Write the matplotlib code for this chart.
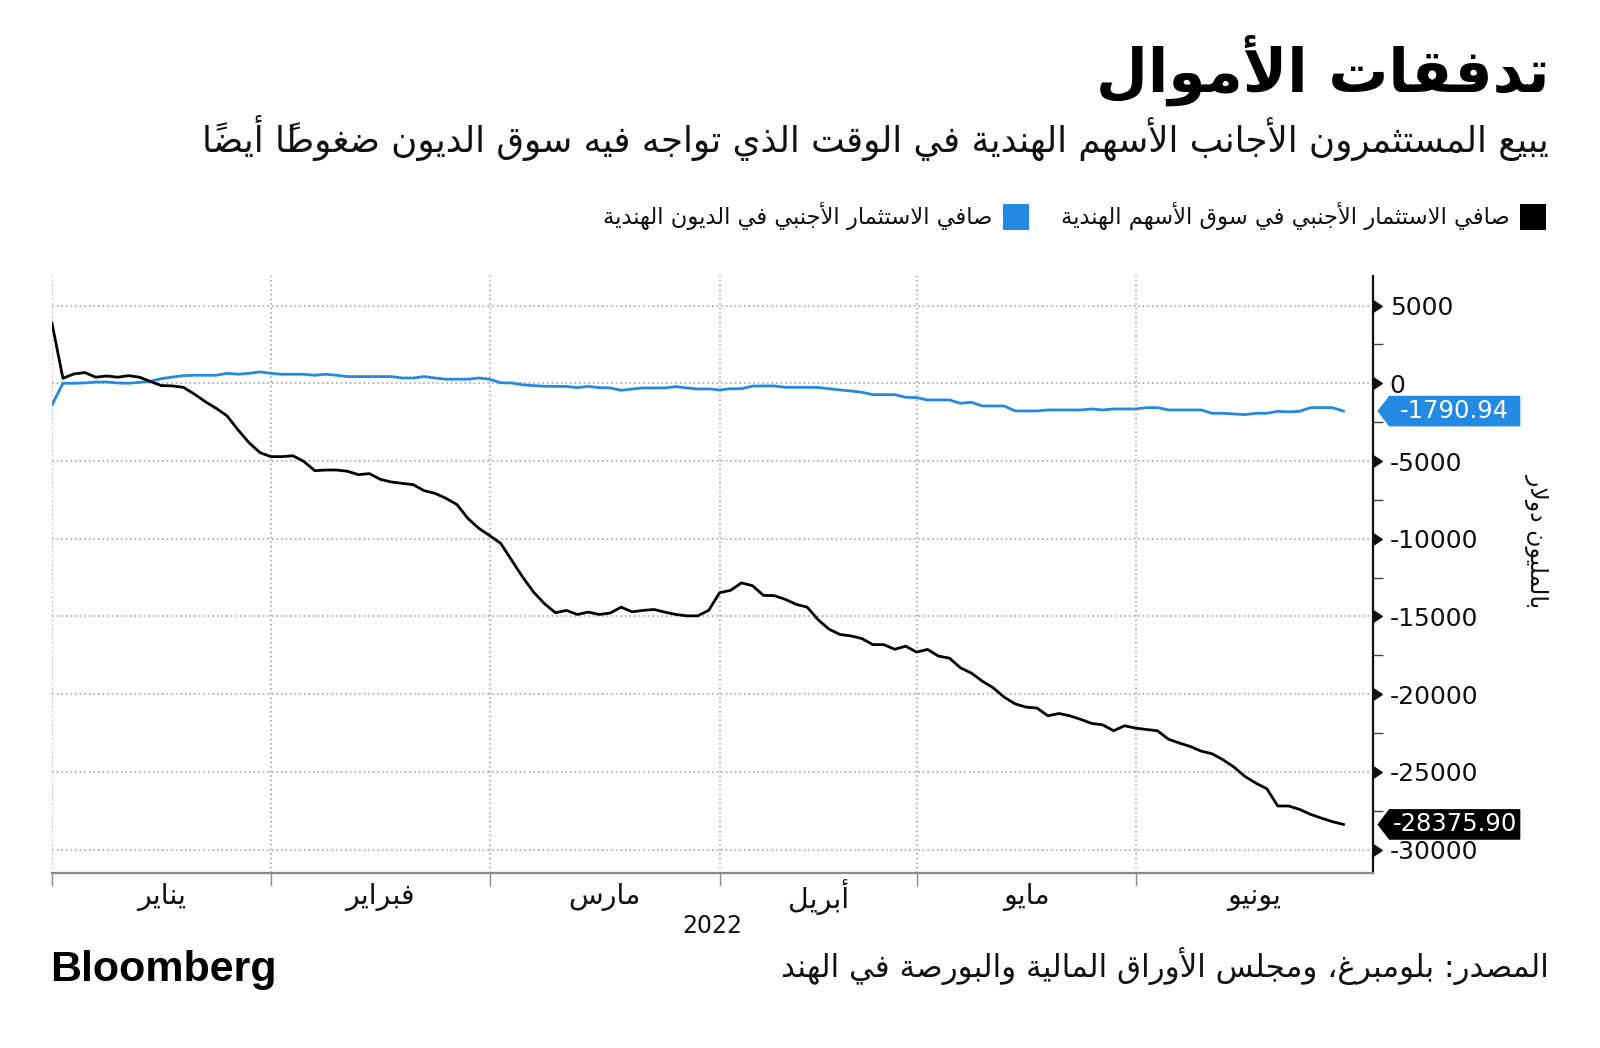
import matplotlib
matplotlib.use("Agg")
import matplotlib.pyplot as plt
from matplotlib.patches import Polygon, Rectangle
from matplotlib.markers import CARETRIGHTBASE
import matplotlib.transforms as mtransforms

# ---- data (cumulative net foreign flows, million USD, one point per trading day) ----
equity_flows = [
    3860, 320, 600, 690, 390, 470, 390, 490, 390, 110,
    -150, -170, -260, -690, -1180, -1610, -2100, -3000, -3820, -4460,
    -4720, -4720, -4660, -5020, -5620, -5580, -5580, -5660, -5880, -5810,
    -6180, -6350, -6440, -6520, -6910, -7080, -7400, -7800, -8690, -9330,
    -9800, -10300, -11380, -12460, -13430, -14180, -14760, -14610, -14870, -14720,
    -14870, -14780, -14400, -14700, -14610, -14550, -14720, -14870, -14960, -14960,
    -14610, -13470, -13320, -12840, -13020, -13640, -13660, -13900, -14220, -14400,
    -15210, -15820, -16160, -16250, -16420, -16810, -16810, -17110, -16910, -17290,
    -17120, -17550, -17680, -18300, -18640, -19160, -19590, -20190, -20620, -20830,
    -20890, -21390, -21240, -21390, -21620, -21880, -21970, -22350, -22030, -22180,
    -22270, -22350, -22890, -23140, -23360, -23660, -23830, -24220, -24690, -25290,
    -25720, -26080, -27190, -27190, -27410, -27730, -27970, -28200, -28375.90,
]
debt_flows = [
    -1394, 0, 0, 20, 80, 80, 20, 0, 60, 130,
    300, 400, 490, 515, 515, 515, 640, 580, 640, 730,
    640, 580, 580, 580, 515, 580, 515, 430, 430, 430,
    430, 430, 340, 340, 430, 340, 260, 260, 260, 340,
    260, 30, 20, -100, -150, -190, -200, -200, -280, -200,
    -280, -300, -450, -370, -300, -300, -300, -215, -300, -370,
    -360, -430, -350, -350, -180, -172, -172, -260, -260, -260,
    -270, -350, -430, -495, -580, -730, -730, -730, -900, -925,
    -1072, -1072, -1072, -1287, -1223, -1459, -1459, -1459, -1780, -1780,
    -1780, -1716, -1716, -1716, -1716, -1652, -1716, -1652, -1652, -1652,
    -1566, -1566, -1716, -1716, -1716, -1716, -1931, -1931, -1973, -2016,
    -1931, -1931, -1802, -1845, -1802, -1566, -1566, -1566, -1790.94,
]
month_names = ["يناير", "فبراير", "مارس", "أبريل", "مايو", "يونيو"]
month_starts = [0, 20, 40, 61, 79, 99]   # trading-day index of each month's first session
x_end = 120.7
year_label = "2022"

title = "تدفقات الأموال"
subtitle = "يبيع المستثمرون الأجانب الأسهم الهندية في الوقت الذي تواجه فيه سوق الديون ضغوطاً أيضاً"
legend_equity = "صافي الاستثمار الأجنبي في سوق الأسهم الهندية"
legend_debt = "صافي الاستثمار الأجنبي في الديون الهندية"
y_label = "بالمليون دولار"
source = "المصدر: بلومبرغ، ومجلس الأوراق المالية والبورصة في الهند"

BLUE = "#2489e3"
BLACK = "#000000"


# ---- minimal Arabic shaping (presentation forms) + right-to-left ordering ----
_cps = list(range(0x621, 0x63B)) + list(range(0x641, 0x64B))
_nforms = [1, 2, 2, 2, 2, 4, 2, 4, 2, 4, 4, 4, 4, 4, 2, 2, 2, 2] + [4] * 8 + [4] * 7 + [2, 2, 4]
_FORMS = {}
_b = 0xFE80
for _c, _n in zip(_cps, _nforms):
    _FORMS[chr(_c)] = [_b + k for k in range(_n)]
    _b += _n
_LAMALEF = {"\u0622": 0xFEF5, "\u0623": 0xFEF7, "\u0625": 0xFEF9, "\u0627": 0xFEFB}


def _is_mark(c):
    return 0x64B <= ord(c) <= 0x652


def ar(text):
    units = []
    i = 0
    while i < len(text):
        c = text[i]
        if _is_mark(c) and units:
            units[-1][1] += c
        elif c == "\u0644" and i + 1 < len(text) and text[i + 1] in _LAMALEF:
            units.append(["LA" + text[i + 1], ""])
            i += 1
        else:
            units.append([c, ""])
        i += 1

    def joinable(u):
        return u[0].startswith("LA") or u[0] in _FORMS

    def dual(u):
        return u[0] in _FORMS and len(_FORMS[u[0]]) == 4

    out = []
    for k, u in enumerate(units):
        jp = k > 0 and dual(units[k - 1]) and joinable(u)
        jn = k + 1 < len(units) and dual(u) and joinable(units[k + 1])
        if u[0].startswith("LA"):
            g = chr(_LAMALEF[u[0][2]] + (1 if jp else 0))
        elif u[0] in _FORMS:
            f = _FORMS[u[0]]
            if len(f) == 4:
                g = chr(f[{(False, False): 0, (True, False): 1, (False, True): 2, (True, True): 3}[(jp, jn)]])
            elif len(f) == 2:
                g = chr(f[1 if jp else 0])
            else:
                g = chr(f[0])
        else:
            g = u[0]
        out.append(g + u[1])
    return "".join(reversed(out))


plt.rcParams["font.family"] = ["DejaVu Sans"]

W, H = 1600, 1048
fig = plt.figure(figsize=(W / 100, H / 100), dpi=100)


def fx(px):
    return px / W


def fy(py):
    return 1 - py / H


ax = fig.add_axes([fx(52), fy(873), fx(1373) - fx(52), fy(276) - fy(873)])

x = list(range(len(equity_flows)))
ax.plot(x, debt_flows, color=BLUE, lw=2.0, zorder=3)
ax.plot(x, equity_flows, color=BLACK, lw=2.0, zorder=3)

ax.set_xlim(0, x_end)
ax.set_ylim(-31500, 6900)

# y axis on the right
ax.yaxis.tick_right()
yt = list(range(5000, -30001, -5000))
ax.set_yticks(yt)
ax.set_yticklabels([str(v) for v in yt])
ax.set_yticks(list(range(2500, -30000, -5000)), minor=True)
ax.tick_params(axis="y", which="major", length=0, pad=12, labelsize=18, colors="#111111")
ax.tick_params(axis="y", which="minor", length=7, width=1, color="#444444")
for t in ax.yaxis.get_major_ticks():
    t.tick2line.set_marker(CARETRIGHTBASE)
    t.tick2line.set_markersize(9)
    t.tick2line.set_color("#111111")
    t.tick2line.set_visible(True)

# x axis: month boundaries
ax.set_xticks(month_starts)
ax.set_xticklabels([])
ax.tick_params(axis="x", length=9, width=1, color="#888888")

ax.grid(True, which="major", color="#9a9a9a", lw=1.1, linestyle=(0, (1, 2)))
for s in ["left", "top"]:
    ax.spines[s].set_visible(False)
ax.spines["right"].set_color("#111111")
ax.spines["right"].set_linewidth(1.6)
ax.spines["bottom"].set_color("#8a8a8a")
ax.spines["bottom"].set_linewidth(1.6)

# month labels centred in each month
bounds = month_starts + [x_end]
for i, name in enumerate(month_names):
    xc = (bounds[i] + bounds[i + 1]) / 2
    ax.text(xc, -0.04, ar(name), transform=ax.get_xaxis_transform(),
            ha="center", va="center", fontsize=20.5, color="#111111")
ax.text(x_end / 2, -0.088, year_label, transform=ax.get_xaxis_transform(),
        ha="center", va="center", fontsize=17, color="#111111")

# last-value tags
trans = mtransforms.blended_transform_factory(ax.transAxes, ax.transData)
for series, col in [(debt_flows, BLUE), (equity_flows, BLACK)]:
    v = series[-1]
    h = 940
    x0, x1, a = 1.004, 1.111, 0.0085
    poly = Polygon([(x0, v), (x0 + a, v + h), (x1, v + h), (x1, v - h), (x0 + a, v - h)],
                   closed=True, transform=trans, clip_on=False, facecolor=col,
                   edgecolor=col, zorder=6)
    ax.add_patch(poly)
    ax.text((x0 + a + x1) / 2, v, f"{v:.2f}", transform=trans, ha="center", va="center",
            fontsize=17.5, color="white", zorder=7, clip_on=False)

# y label
fig.text(fx(1537), fy(541), ar(y_label), rotation=-90, ha="center", va="center",
         fontsize=17, color="#111111")

# titles
fig.text(fx(1549), fy(70), ar(title), ha="right", va="center", fontsize=43,
         fontweight="bold", color="#000000")
fig.text(fx(1549), fy(138), ar(subtitle), ha="right", va="center", fontsize=25.7,
         color="#111111")

# legend
fig.patches.append(Rectangle((fx(1520), fy(230)), fx(26), 26 / H, transform=fig.transFigure,
                             facecolor=BLACK, edgecolor="none"))
fig.text(fx(1510), fy(216), ar(legend_equity), ha="right", va="center", fontsize=16.3,
         color="#111111")
fig.patches.append(Rectangle((fx(1003), fy(230)), fx(26), 26 / H, transform=fig.transFigure,
                             facecolor=BLUE, edgecolor="none"))
fig.text(fx(992), fy(216), ar(legend_debt), ha="right", va="center", fontsize=16.3,
         color="#111111")

# footer
fig.text(fx(50), fy(970), "Bloomberg", ha="left", va="center", fontsize=31,
         fontweight="bold", family=["Liberation Sans", "DejaVu Sans"], color="#000000")
fig.text(fx(1549), fy(966), ar(source), ha="right", va="center", fontsize=22.3,
         color="#111111")

fig.savefig("out.png", dpi=100)
